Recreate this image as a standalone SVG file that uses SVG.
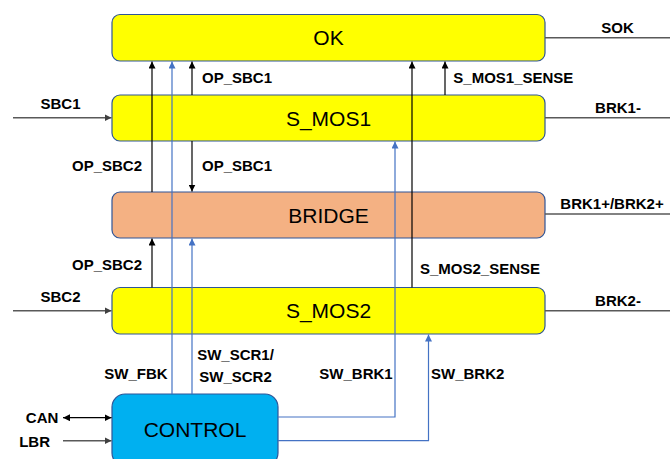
<svg xmlns="http://www.w3.org/2000/svg" width="670" height="459" viewBox="0 0 670 459">
<style>
.box{stroke:#2F5597;stroke-width:1.2}
.y{fill:#FFFF00}
.br{fill:#F4B183}
.ct{fill:#00B0F0}
.bt{font-family:"Liberation Sans",Arial,sans-serif;font-size:21px;fill:#000;text-anchor:middle}
.lb{font-family:"Liberation Sans",Arial,sans-serif;font-size:15px;font-weight:bold;fill:#000}
.k{stroke:#000;stroke-width:1.2;fill:none}
.b{stroke:#4472C4;stroke-width:1.2;fill:none}
.g{stroke:#595959;stroke-width:1.5;fill:none}
</style>
<defs>
<marker id="ak" viewBox="0 0 10 10" refX="10" refY="5" markerWidth="7" markerHeight="7" markerUnits="userSpaceOnUse" orient="auto-start-reverse"><path d="M0,0 L10,5 L0,10 z" fill="#000"/></marker>
<marker id="ab" viewBox="0 0 10 10" refX="10" refY="5" markerWidth="7" markerHeight="7" markerUnits="userSpaceOnUse" orient="auto"><path d="M0,0 L10,5 L0,10 z" fill="#4472C4"/></marker>
<marker id="ag" viewBox="0 0 10 10" refX="10" refY="5" markerWidth="7" markerHeight="7" markerUnits="userSpaceOnUse" orient="auto"><path d="M0,0 L10,5 L0,10 z" fill="#404040"/></marker>
</defs>
<g id="node-ok"><rect class="box y" x="112" y="14.5" width="433" height="46.5" rx="8"/><text class="bt" x="328.5" y="45">OK</text></g>
<g id="node-smos1"><rect class="box y" x="112" y="95" width="433" height="46" rx="8"/><text class="bt" x="328.5" y="125.5">S_MOS1</text></g>
<g id="node-bridge"><rect class="box br" x="112" y="192" width="433" height="46" rx="8"/><text class="bt" x="328.5" y="222.5">BRIDGE</text></g>
<g id="node-smos2"><rect class="box y" x="112" y="287.5" width="433" height="46.5" rx="8"/><text class="bt" x="328.5" y="318">S_MOS2</text></g>
<g id="node-control"><rect class="box ct" x="112" y="394" width="166" height="72" rx="13"/><text class="bt" x="195" y="437">CONTROL</text></g>
<g id="connectors">
<line class="k" x1="152" y1="192" x2="152" y2="61.5" marker-end="url(#ak)"/>
<line class="k" x1="152" y1="287.5" x2="152" y2="238.5" marker-end="url(#ak)"/>
<line class="b" x1="172" y1="394" x2="172" y2="61.5" marker-end="url(#ab)"/>
<line class="k" x1="192" y1="95" x2="192" y2="61.5" marker-end="url(#ak)"/>
<line class="k" x1="192" y1="141" x2="192" y2="191.5" marker-end="url(#ak)"/>
<line class="b" x1="192" y1="394" x2="192" y2="238.5" marker-end="url(#ab)"/>
<line class="k" x1="412" y1="287.5" x2="412" y2="61.5" marker-end="url(#ak)"/>
<line class="k" x1="445" y1="95" x2="445" y2="61.5" marker-end="url(#ak)"/>
<polyline class="b" points="278,417 395,417 395,141.5" marker-end="url(#ab)"/>
<polyline class="b" points="278,440.7 428.5,440.7 428.5,334.5" marker-end="url(#ab)"/>
<line class="g" x1="545" y1="37.7" x2="670" y2="37.7"/>
<line class="g" x1="545" y1="117.7" x2="670" y2="117.7"/>
<line class="g" x1="545" y1="214" x2="670" y2="214"/>
<line class="g" x1="545" y1="310.7" x2="670" y2="310.7"/>
<line class="g" x1="13" y1="117.7" x2="111.5" y2="117.7" marker-end="url(#ag)"/>
<line class="g" x1="13" y1="310.7" x2="111.5" y2="310.7" marker-end="url(#ag)"/>
<line class="k" stroke-width="1.8" x1="63" y1="417.7" x2="111.5" y2="417.7" marker-start="url(#ak)" marker-end="url(#ak)"/>
<line class="g" x1="63" y1="440.7" x2="111.5" y2="440.7" marker-end="url(#ag)"/>
</g>
<g id="labels">
<text class="lb" x="202" y="83.3">OP_SBC1</text>
<text class="lb" x="202" y="170.7">OP_SBC1</text>
<text class="lb" x="142" y="170.7" text-anchor="end">OP_SBC2</text>
<text class="lb" x="142" y="270" text-anchor="end">OP_SBC2</text>
<text class="lb" x="60.5" y="109" text-anchor="middle">SBC1</text>
<text class="lb" x="60.5" y="302.3" text-anchor="middle">SBC2</text>
<text class="lb" x="617.5" y="32.7" text-anchor="middle">SOK</text>
<text class="lb" x="618" y="112.7" text-anchor="middle">BRK1-</text>
<text class="lb" x="612" y="209.3" text-anchor="middle">BRK1+/BRK2+</text>
<text class="lb" x="618" y="306" text-anchor="middle">BRK2-</text>
<text class="lb" x="453.3" y="83.3">S_MOS1_SENSE</text>
<text class="lb" x="420" y="274">S_MOS2_SENSE</text>
<text class="lb" x="235.5" y="360" text-anchor="middle">SW_SCR1/</text>
<text class="lb" x="235.5" y="381.7" text-anchor="middle">SW_SCR2</text>
<text class="lb" x="167.7" y="379" text-anchor="end">SW_FBK</text>
<text class="lb" x="392.7" y="379" text-anchor="end">SW_BRK1</text>
<text class="lb" x="431" y="379">SW_BRK2</text>
<text class="lb" x="58.3" y="423.3" text-anchor="end">CAN</text>
<text class="lb" x="50" y="446.7" text-anchor="end">LBR</text>
</g>
</svg>
